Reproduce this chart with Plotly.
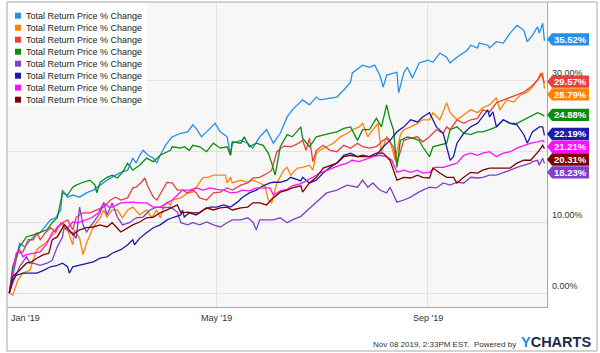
import plotly.graph_objects as go
import pandas as pd

BASE = pd.Timestamp("2019-01-01")
SERIES_NAME = "Total Return Price % Change"

# ---- data: day offsets from 2019-01-01 and total return % ----
blue_days = [-1,5,8,13,17,23,26,29,30,33,36,40,44,48,52,56,61,64,68,71,73,75,77,80,83,85,87,90,94,99,
             103,106,108,111,114,119,122,126,128,129,134,138,141,145,149,153,157,161,164,170,174,178,180,186,190,194,198,199,205,209,
             212,215,217,219,223,225,226,229,231,234,238,243,246,250,254,256,260,266,268,272,273,278,279,283,287,291,295,299,301,304,
             307,308,310,311]
blue_vals = [0,7.0,6.5,7.9,8.5,10.3,10.6,11.7,14.5,13.5,13.8,13.5,14.1,14.5,15.2,15.9,16.6,17.0,17.3,19.0,
             18.3,19.4,20.1,19.4,19.0,18.3,19.4,20.8,22.0,22.5,22.7,23.7,23.2,22.0,22.7,23.9,22.7,22.0,19.4,21.1,
             21.5,21.1,20.4,22.0,23.0,21.1,22.5,24.8,25.8,27.2,26.5,27.6,27.2,27.5,27.6,28.6,29.7,31.0,32.1,31.8,
             32.1,30.7,29.0,30.7,31.0,31.1,28.2,31.0,31.8,30.3,32.4,32.8,32.5,33.8,33.2,32.4,33.2,34.2,34.9,34.5,
             35.2,34.9,34.5,35.4,35.2,36.6,37.7,37.0,35.4,36.3,37.5,36.6,38.0,35.52]

orange_days = [-1,1,4,7,11,15,17,20,23,26,29,30,33,36,37,40,42,44,48,52,54,56,59,62,65,68,71,75,79,82,
               85,87,89,91,93,94,99,103,106,110,112,115,118,122,125,126,128,129,134,138,141,145,148,150,152,155,159,161,163,167,
               170,174,176,178,180,184,188,192,196,199,203,205,208,211,214,216,219,221,224,227,229,233,237,240,244,246,250,254,256,260,
               264,268,272,275,279,283,285,289,293,297,301,304,308,310,311]
orange_vals = [0,-0.3,1.8,2.8,3.2,6.1,6.5,7.0,7.9,8.5,9.9,9.6,8.9,6.8,8.9,7.7,5.4,7.0,9.3,10.6,
               11.7,10.7,11.7,11.7,10.6,11.7,12.1,11.0,11.7,10.6,11.7,10.6,12.1,12.8,12.4,13.1,13.4,14.1,14.2,15.5,
               16.3,16.3,16.6,16.6,16.6,15.5,16.3,15.5,15.9,15.6,15.9,15.5,15.1,13.1,12.7,15.5,17.3,17.7,16.6,17.6,
               17.7,18.0,17.3,19.7,20.1,20.6,21.1,22.0,22.5,23.0,23.4,23.9,22.0,23.0,23.9,19.7,22.0,21.5,18.7,22.3,
               23.0,23.4,23.9,24.4,24.4,25.4,24.4,26.8,25.4,24.4,25.1,25.8,25.4,26.1,26.5,27.5,25.8,27.2,26.9,27.9,
               28.3,29.0,30.3,31.0,28.79]

red_days = [-1,1,4,7,10,13,15,17,20,23,26,27,30,33,36,38,42,46,50,54,58,61,64,68,71,73,76,78,80,83,
            85,89,91,93,94,97,100,103,106,108,110,114,118,122,126,129,134,138,141,145,149,152,155,159,163,167,170,172,174,176,
            178,182,186,190,194,198,202,205,209,213,217,219,223,225,229,233,237,240,244,248,252,254,256,260,264,268,272,275,279,283,
            287,291,295,299,303,307,309,311]
red_vals = [0,3.2,5.6,5.8,7.5,7.5,8.5,7.5,8.5,9.2,8.6,9.3,9.9,10.3,8.9,10.7,11.3,11.3,11.7,12.1,
            13.1,13.5,13.1,13.4,14.8,14.9,15.6,16.2,14.9,13.5,13.1,14.9,15.6,15.5,15.5,14.5,14.5,14.1,14.5,14.1,
            13.4,13.1,14.1,14.2,14.8,14.5,15.2,15.5,16.2,16.3,16.8,17.3,19.9,20.7,20.6,21.0,21.5,20.1,21.8,18.5,
            20.1,20.8,20.1,19.9,20.8,20.4,21.1,20.6,20.4,20.6,21.5,21.8,20.6,18.3,21.5,21.8,22.0,21.3,22.0,23.0,
            22.5,23.4,23.0,24.4,23.9,24.4,24.6,25.8,25.5,26.8,27.2,27.5,27.9,28.3,29.0,30.0,31.0,29.57]

green_days = [-1,1,5,9,13,17,21,24,27,30,33,36,38,42,46,49,50,52,56,59,62,65,68,71,75,79,83,87,91,93,
              94,99,101,104,106,110,114,118,122,126,128,129,134,136,139,143,147,150,152,154,157,161,164,169,170,174,178,182,186,190,
              194,198,202,205,209,213,216,219,221,223,225,227,231,234,238,240,244,246,250,254,256,260,264,268,272,275,279,283,287,291,
              295,299,303,307,310,311]
green_vals = [0,3.7,6.5,7.9,8.2,8.5,8.9,9.9,10.6,14.1,13.8,14.9,15.2,15.6,15.9,15.2,14.1,15.6,16.3,16.6,
              16.2,17.0,18.3,17.3,18.0,19.0,18.5,19.4,19.9,20.1,20.6,20.4,20.6,20.1,20.8,20.6,19.9,21.1,20.4,20.6,
              19.4,21.3,21.1,22.0,20.6,21.1,20.8,19.7,18.3,16.6,20.6,22.3,22.0,23.4,21.8,20.6,22.0,22.3,22.5,22.7,
              23.2,23.4,21.5,23.0,23.0,24.6,23.4,26.5,24.4,23.0,17.7,21.5,22.0,21.8,21.5,20.6,19.2,20.6,20.8,21.1,
              23.0,23.4,22.5,22.3,22.7,22.7,23.0,23.4,24.4,23.9,23.9,24.4,24.8,25.4,25.1,24.88]

purple_days = [-1,1,5,9,11,13,17,21,24,27,30,31,34,36,38,40,42,44,48,52,54,56,59,62,65,69,73,77,81,85,
               89,93,97,99,103,106,110,114,118,122,126,129,134,138,141,143,145,149,153,157,161,164,169,173,178,184,190,196,202,205,
               208,211,215,219,221,225,229,233,237,240,244,248,252,256,260,264,268,272,275,279,283,287,291,295,299,303,304,307,308,310,
               311]
purple_vals = [0,1.4,3.7,5.1,4.2,4.2,3.9,4.2,4.6,6.5,7.9,9.2,8.6,8.5,7.7,12.1,9.6,8.6,9.9,11.3,
               12.7,11.0,12.7,10.7,9.6,9.9,10.6,10.7,11.7,12.1,12.0,12.1,11.4,9.9,9.6,9.9,9.6,10.0,9.6,9.3,
               9.9,10.3,10.3,10.6,10.0,8.9,10.3,10.3,10.3,10.6,9.9,10.3,10.8,11.7,12.8,14.1,14.5,15.2,14.9,15.9,
               14.9,15.5,14.5,14.1,14.9,12.8,13.1,13.5,14.1,14.5,14.9,14.8,15.5,15.2,15.6,15.5,16.3,16.2,16.3,16.6,
               16.6,16.9,17.3,17.7,18.0,18.3,18.5,18.7,18.0,19.0,18.23]

navy_days = [-1,1,3,7,11,15,19,23,27,30,33,34,36,40,44,48,52,56,59,64,68,71,72,75,79,83,87,91,94,99,
             100,101,104,108,112,116,120,124,128,132,135,139,143,147,151,153,157,161,163,164,169,170,174,178,182,186,190,194,198,202,
             205,209,213,217,221,225,229,233,237,240,244,246,248,252,254,256,258,260,264,268,272,275,278,279,281,283,287,291,295,299,
             301,304,308,310,311]
navy_vals = [0,1.8,2.5,2.8,2.8,2.8,3.2,3.7,3.9,4.2,3.7,2.8,3.7,3.9,4.2,4.4,4.9,5.1,5.6,6.1,
             6.8,7.5,6.8,7.7,8.5,9.2,9.6,10.3,10.6,11.0,11.7,10.7,11.3,11.0,11.7,12.1,12.1,12.4,12.1,12.8,
             13.5,14.1,14.5,15.1,15.5,15.6,15.6,15.9,16.3,16.2,15.8,16.3,15.5,15.9,16.9,17.7,18.3,19.4,19.7,19.2,
             19.4,19.2,19.4,20.6,21.5,22.7,23.4,24.4,24.1,24.8,25.4,24.4,23.4,22.5,20.6,18.7,19.2,21.1,22.5,23.4,
             23.9,24.8,25.8,24.8,25.5,23.4,24.4,23.9,23.7,22.3,21.1,22.7,23.4,23.4,22.19]

magenta_days = [-1,1,3,5,7,9,13,17,21,24,27,30,33,36,39,43,47,51,54,57,59,64,68,71,75,79,83,87,91,94,
                97,100,104,108,112,116,120,124,128,132,135,139,143,147,151,153,157,161,164,169,173,176,180,184,188,192,196,199,203,208,
                211,215,219,222,225,229,233,237,240,244,247,252,256,260,264,268,272,275,279,283,287,291,295,299,303,307,310,311]
magenta_vals = [0,2.8,5.6,6.1,5.1,5.4,5.6,5.8,7.0,8.5,9.2,9.9,9.2,10.0,9.9,10.3,10.6,11.3,12.7,12.1,
                12.1,12.7,12.8,12.8,12.7,12.7,12.1,12.1,12.7,13.1,13.8,14.5,14.5,14.8,14.5,14.8,14.6,14.5,14.1,14.2,
                14.5,14.4,14.8,14.8,14.8,13.8,14.4,14.6,15.1,15.4,15.9,16.3,16.9,17.3,17.7,18.0,18.3,18.7,18.5,19.0,
                19.2,19.4,19.2,18.7,17.0,17.3,17.0,17.3,16.9,17.0,17.7,17.7,18.0,18.3,19.4,19.7,19.4,19.7,19.9,19.2,
                19.7,19.9,20.4,20.8,21.1,21.3,21.5,21.21]

maroon_days = [-1,1,5,9,12,15,19,22,23,24,27,30,31,34,36,40,44,48,52,56,59,64,68,71,75,79,83,87,91,94,
               97,99,103,106,110,114,118,122,126,129,134,138,141,145,149,152,157,161,164,169,170,174,178,182,186,190,194,198,202,205,
               209,213,217,221,225,229,233,237,240,244,246,250,254,258,260,264,268,272,275,279,283,287,291,295,299,303,307,308,310,311]
maroon_vals = [0,2.3,3.2,4.2,4.4,4.9,5.4,5.6,6.5,7.5,7.9,9.2,9.6,8.9,8.2,8.9,9.2,9.3,9.6,9.3,
               9.9,8.6,9.2,9.6,10.0,10.6,10.7,11.3,11.7,12.1,12.4,11.3,11.4,11.3,11.3,12.0,11.7,12.0,12.1,11.7,
               12.0,12.1,12.7,12.7,12.4,13.2,14.2,14.5,14.8,15.1,14.2,15.5,16.3,17.6,18.0,18.3,19.2,19.4,19.2,19.2,
               19.2,19.7,19.7,18.7,15.9,16.3,16.2,16.6,16.3,16.2,17.6,16.9,16.3,16.3,15.5,16.3,17.0,16.9,17.3,17.6,
               17.6,17.7,17.6,18.3,18.7,18.7,19.7,20.1,20.8,20.31]

colors = ["#2490e8", "#ff8300", "#e8413b", "#0e8a0e", "#8042c4", "#1c1ca8", "#ff10ff", "#800000"]
series = [(blue_days, blue_vals), (orange_days, orange_vals), (red_days, red_vals),
          (green_days, green_vals), (purple_days, purple_vals), (navy_days, navy_vals),
          (magenta_days, magenta_vals), (maroon_days, maroon_vals)]

y_ticks = [0, 10, 20, 30]
y_labels = ["0.00%", "10.00%", "", "30.00%"]
x_ticks = ["2019-01-01", "2019-05-01", "2019-09-01"]
x_labels = ["Jan '19", "May '19", "Sep '19"]

FONT = "Liberation Sans, Arial, sans-serif"

# ---- layout geometry (pixels) ----
W, H = 600, 353
L, R, T, B = 7, 53, 2, 46
PW, PH = W - L - R, H - T - B
def px(xp):
    return (xp - L) / PW
def py(yp):
    return (H - B - yp) / PH

Y_RANGE = [-1.97, 40.99]
units_per_px = (Y_RANGE[1] - Y_RANGE[0]) / PH

fig = go.Figure()
for (d, v), c in zip(series, colors):
    fig.add_trace(go.Scatter(
        x=BASE + pd.to_timedelta(d, unit="D"), y=v, mode="lines",
        line=dict(color=c, width=1.3), showlegend=False, hoverinfo="skip"))

shapes = []
annotations = []

# outer frame
shapes.append(dict(type="rect", xref="paper", yref="paper", x0=px(7), x1=px(597), y0=py(351), y1=py(2),
                   line=dict(color="#a8a8a8", width=1), fillcolor="rgba(0,0,0,0)", layer="above"))

# legend box
shapes.append(dict(type="rect", xref="paper", yref="paper", x0=px(8), x1=px(147), y0=py(106), y1=py(3),
                   line=dict(width=0), fillcolor="white", layer="above"))
for i, c in enumerate(colors):
    cy = 15.7 + 12 * i
    shapes.append(dict(type="rect", xref="paper", yref="paper", x0=px(15), x1=px(21), y0=py(cy + 3), y1=py(cy - 3),
                       line=dict(width=0), fillcolor=c, layer="above"))
    annotations.append(dict(xref="paper", yref="paper", x=px(24), y=py(cy), xanchor="left", yanchor="middle",
                            text=SERIES_NAME, showarrow=False, font=dict(family=FONT, size=9, color="#222")))

# y-axis labels (above gridlines, right side)
for v, t in zip(y_ticks, y_labels):
    if t:
        annotations.append(dict(xref="paper", yref="y", x=px(550), y=v, xanchor="left", yanchor="bottom",
                                text=t, showarrow=False, font=dict(family=FONT, size=9, color="#333")))

# x-axis labels
for i, (d, t) in enumerate(zip(x_ticks, x_labels)):
    annotations.append(dict(xref="x", yref="paper", x=d, y=py(318), xanchor="left" if i == 0 else "center",
                            xshift=-2 if i == 0 else 0, yanchor="middle",
                            text=t, showarrow=False, font=dict(family=FONT, size=9, color="#333")))

# end-value badges
ends = [v[-1] for _, v in series]
order = sorted(range(len(ends)), key=lambda i: -ends[i])
gap = 12.8 * units_per_px
half = 6.2 * units_per_px
prev = None
for i in order:
    p = ends[i] + 1.5 * units_per_px
    if prev is not None and prev - p < gap:
        p = prev - gap
    prev = p
    xt, xb0, xb1 = px(547), px(552), px(589)
    path = (f"M {xt},{p} L {xb0},{p + half} L {xb1},{p + half} "
            f"L {xb1},{p - half} L {xb0},{p - half} Z")
    shapes.append(dict(type="path", xref="paper", yref="y", path=path,
                       fillcolor=colors[i], line=dict(width=0), layer="above"))
    annotations.append(dict(xref="paper", yref="y", x=px(570.5), y=p, xanchor="center", yanchor="middle",
                            text=f"<b>{ends[i]:.2f}%</b>", showarrow=False,
                            font=dict(family=FONT, size=9.5, color="white")))

# footer
annotations.append(dict(xref="paper", yref="paper", x=px(518), y=py(344), xanchor="right", yanchor="middle",
                        text="Nov 08 2019, 2:33PM EST.&nbsp; Powered by", showarrow=False,
                        font=dict(family=FONT, size=8, color="#333")))
annotations.append(dict(xref="paper", yref="paper", x=px(593), y=py(342), xanchor="right", yanchor="middle",
                        text="<b><span style='color:#1b8fe3'>Y</span>CHARTS</b>", showarrow=False,
                        font=dict(family=FONT, size=14.5, color="#1e2b47")))

fig.update_layout(
    width=W, height=H, margin=dict(l=L, r=R, t=T, b=B),
    paper_bgcolor="white", plot_bgcolor="#f7f7f7",
    shapes=shapes, annotations=annotations, showlegend=False,
    xaxis=dict(type="date", range=["2018-12-29 16:00", "2019-11-09 12:00"],
               tickvals=x_ticks[1:], showticklabels=False, ticks="",
               showgrid=True, gridcolor="#e2e2e2", gridwidth=1, zeroline=False,
               showline=True, linecolor="#a8a8a8", linewidth=1),
    yaxis=dict(range=Y_RANGE, side="right", tickvals=y_ticks, showticklabels=False, ticks="",
               showgrid=True, gridcolor="#e2e2e2", gridwidth=1, zeroline=False,
               showline=True, linecolor="#a8a8a8", linewidth=1),
)

fig.write_html("out.html")
